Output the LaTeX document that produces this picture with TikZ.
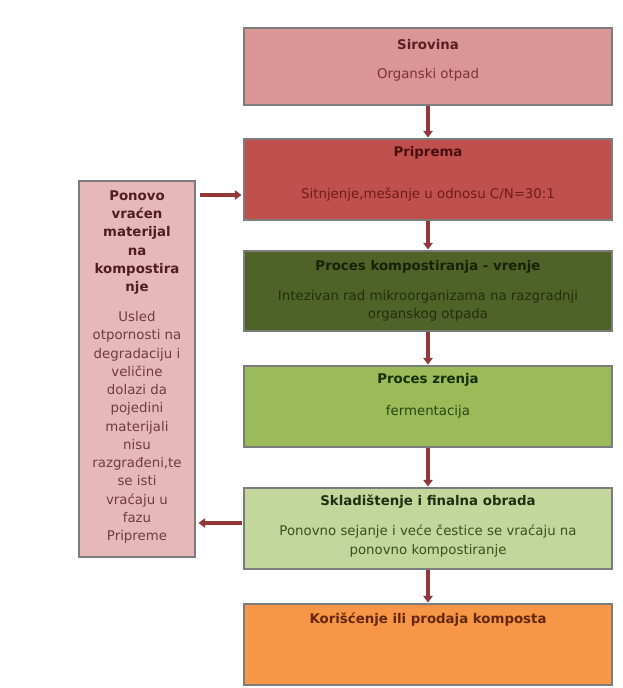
\documentclass[tikz,border=0pt]{standalone}
\usepackage{fontspec}
\setmainfont{DejaVu Sans}
\usetikzlibrary{arrows.meta,calc}

\definecolor{boxline}{RGB}{124,124,124}
\definecolor{flowred}{RGB}{146,56,58}
\definecolor{sirfill}{RGB}{217,150,148}
\definecolor{prifill}{RGB}{192,80,77}
\definecolor{vrefill}{RGB}{79,98,40}
\definecolor{zrefill}{RGB}{155,187,89}
\definecolor{sklfill}{RGB}{195,214,155}
\definecolor{korfill}{RGB}{247,150,70}
\definecolor{povfill}{RGB}{230,185,184}

\begin{document}
\begin{tikzpicture}[x=0.75pt,y=-0.75pt,
  stagebox/.style={draw=boxline,line width=2.2pt,minimum width=276pt,inner sep=0pt},
  headtxt/.style={font=\fontsize{10}{13.7}\selectfont\bfseries,align=center,inner sep=0pt},
  subtxt/.style={font=\fontsize{10}{13.7}\selectfont,align=center,inner sep=0pt},
  flow/.style={draw=flowred,line width=3pt,-{Triangle[width=7pt,length=5pt]}}]

\useasboundingbox (0,0) rectangle (623,688);

\node[stagebox,fill=sirfill,minimum height=57.75pt] (sir) at (428, 66.5) {};
\node[stagebox,fill=prifill,minimum height=60.75pt] (pri) at (428,179.5) {};
\node[stagebox,fill=vrefill,minimum height=60pt]    (vre) at (428,291) {};
\node[stagebox,fill=zrefill,minimum height=60.75pt] (zre) at (428,406.5) {};
\node[stagebox,fill=sklfill,minimum height=60.75pt] (skl) at (428,528.5) {};
\node[stagebox,fill=korfill,minimum height=60.75pt] (kor) at (428,644.5) {};

\node[stagebox,fill=povfill,minimum width=87pt,minimum height=282pt] (pov) at (137,369) {};

\node[headtxt,text={rgb,255:red,88;green,30;blue,32}] (sirh) at (428, 45) {Sirovina};
\node[subtxt,text={rgb,255:red,122;green,52;blue,52}] (sirs) at (428, 75) {Organski otpad};

\node[headtxt,text={rgb,255:red,72;green,14;blue,16}] (prih) at (428,153) {Priprema};
\node[subtxt,text={rgb,255:red,110;green,28;blue,28}] (pris) at (428,195) {Sitnjenje,mešanje u odnosu C/N=30:1};

\node[headtxt,text={rgb,255:red,24;green,34;blue,8}]  (vreh) at (428,267) {Proces kompostiranja - vrenje};
\node[subtxt,text={rgb,255:red,34;green,48;blue,14}]  (vres) at (428,306) {Intezivan rad mikroorganizama na razgradnji\\organskog otpada};

\node[headtxt,text={rgb,255:red,22;green,48;blue,10}] (zreh) at (428,380) {Proces zrenja};
\node[subtxt,text={rgb,255:red,40;green,70;blue,20}]  (zres) at (428,412) {fermentacija};

\node[headtxt,text={rgb,255:red,30;green,48;blue,18}] (sklh) at (428,502) {Skladištenje i finalna obrada};
\node[subtxt,text={rgb,255:red,58;green,80;blue,30}]  (skls) at (428,541) {Ponovno sejanje i veće čestice se vraćaju na\\ponovno kompostiranje};

\node[headtxt,text={rgb,255:red,100;green,40;blue,12}] (korh) at (428,620) {Korišćenje ili prodaja komposta};

\node[headtxt,text={rgb,255:red,80;green,30;blue,32},font=\fontsize{10}{13.7}\selectfont\bfseries]
  (povh) at (137,242.5) {Ponovo\\vraćen\\materijal\\na\\kompostira\\nje};
\node[subtxt,text={rgb,255:red,112;green,60;blue,60}]
  (povs) at (137,427.5) {Usled\\otpornosti na\\degradaciju i\\veličine\\dolazi da\\pojedini\\materijali\\nisu\\razgrađeni,te\\se isti\\vraćaju u\\fazu\\Pripreme};

\draw[flow] (sir) -- (pri);
\draw[flow] (pri) -- (vre);
\draw[flow] (vre) -- (zre);
\draw[flow] (zre) -- (skl);
\draw[flow] (skl) -- (kor);

\draw[flow] ($(pov.east |- pri.west)+(4,15.5)$) -- ($(pri.west)+(-1,15.5)$);
\draw[flow] ($(skl.west)+(-1,-5.5)$) -- ($(pov.east |- skl.west)+(2,-5.5)$);

\end{tikzpicture}
\end{document}
